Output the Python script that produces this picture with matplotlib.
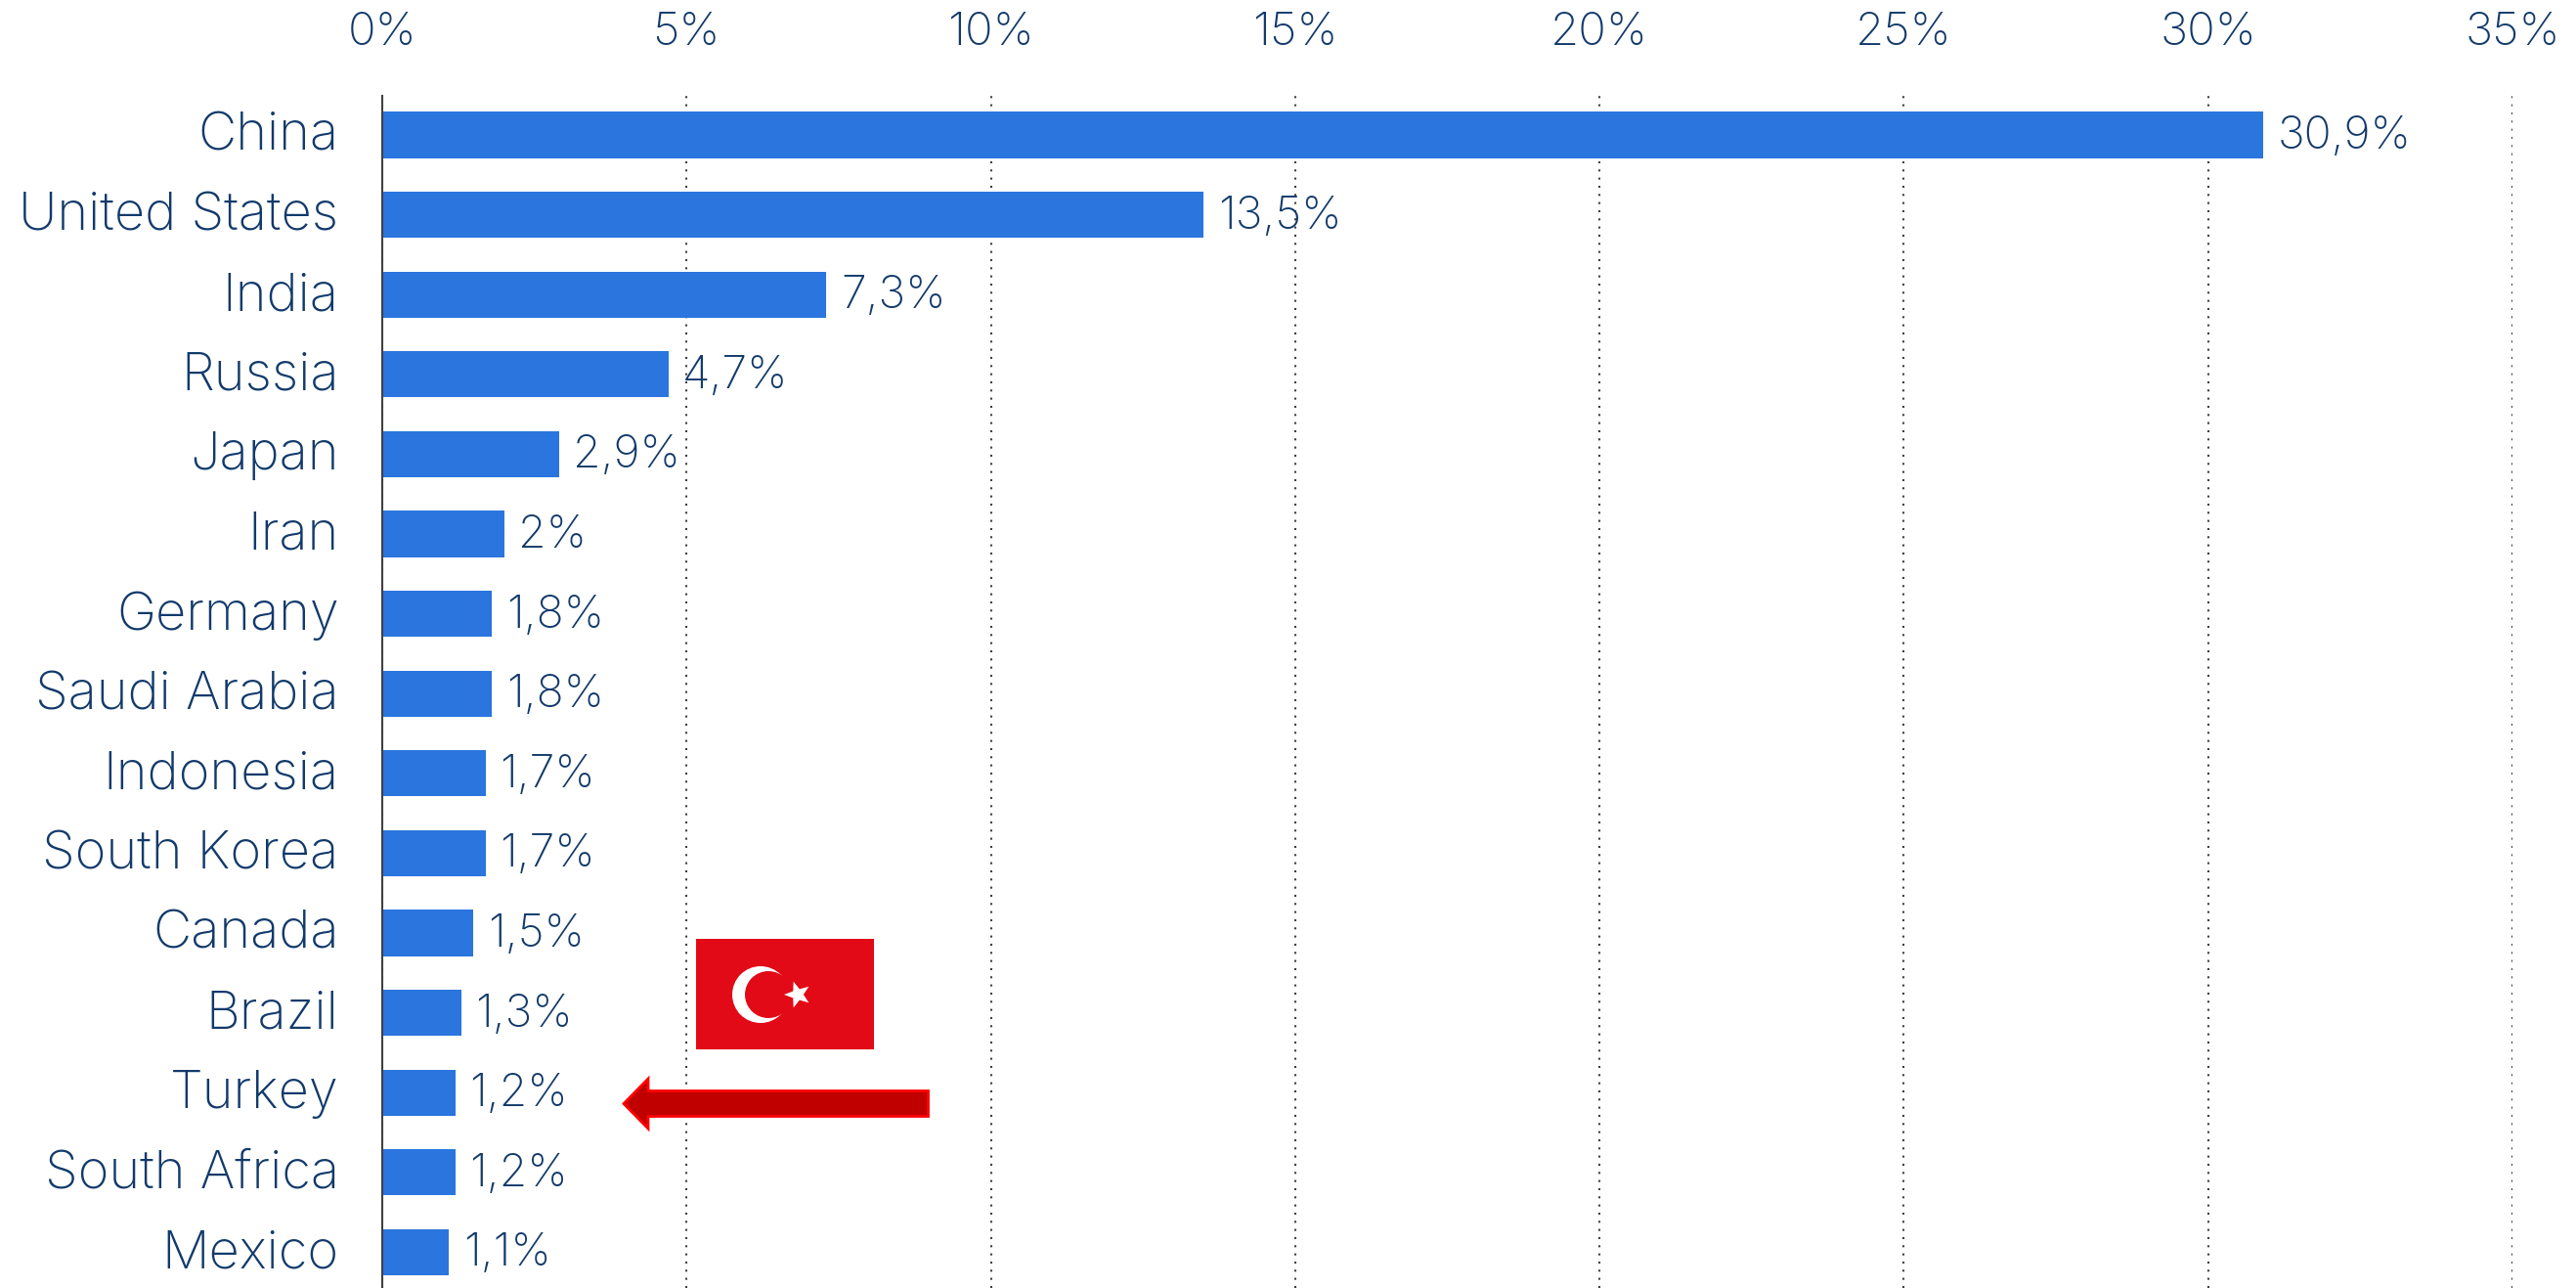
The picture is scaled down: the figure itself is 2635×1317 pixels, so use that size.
import matplotlib
matplotlib.use('Agg')
import matplotlib.pyplot as plt
from matplotlib.patches import Rectangle, Circle, Polygon, PathPatch
from matplotlib.path import Path
from matplotlib.transforms import Affine2D, ScaledTranslation

countries = ['China', 'United States', 'India', 'Russia', 'Japan', 'Iran', 'Germany',
             'Saudi Arabia', 'Indonesia', 'South Korea', 'Canada', 'Brazil', 'Turkey',
             'South Africa', 'Mexico']
shares = [30.9, 13.5, 7.3, 4.7, 2.9, 2, 1.8, 1.8, 1.7, 1.7, 1.5, 1.3, 1.2, 1.2, 1.1]
x_ticks = [0, 5, 10, 15, 20, 25, 30, 35]

W, H = 2635, 1317
text_color = '#123A6B'
bar_color = '#2A75DE'

plt.rcParams['font.family'] = ['Inter', 'DejaVu Sans']
plt.rcParams['font.weight'] = 'light'

fig = plt.figure(figsize=(W / 100, H / 100), dpi=100)
ax = fig.add_axes([391 / W, 0, (2570 - 391) / W, (H - 98) / H])

ypos = list(range(len(countries)))
ax.barh(ypos, shares, height=0.58, color=bar_color, zorder=3)
ax.set_xlim(0, 35)
ax.set_ylim(14.449, -0.49)

ax.xaxis.tick_top()
ax.set_xticks(x_ticks)
ax.set_xticklabels([f'{t}%' for t in x_ticks], fontsize=34, color=text_color)
ax.set_yticks(ypos)
ax.set_yticklabels(countries, fontsize=39, color=text_color)
ax.tick_params(axis='x', length=0, pad=30)
ax.tick_params(axis='y', length=0, pad=32)

# country names sit slightly above the bar centres
lift = ScaledTranslation(0, 3.5 / 100, fig.dpi_scale_trans)
for lab in ax.get_yticklabels():
    lab.set_transform(lab.get_transform() + lift)

ax.grid(axis='x', color='#404040', linewidth=1.5, linestyle=(0, (1, 3)), zorder=1)
ax.set_axisbelow(True)
for side in ['top', 'right', 'bottom']:
    ax.spines[side].set_visible(False)
ax.spines['left'].set_color('#404040')
ax.spines['left'].set_linewidth(1.5)
ax.spines['left'].set_zorder(4)

# value labels, decimal comma
for y, v in zip(ypos, shares):
    label = f'{v:g}'.replace('.', ',') + '%'
    ax.annotate(label, (v, y), xytext=(10.5, -1.5), textcoords='offset points',
                va='center', ha='left', fontsize=33.5, color=text_color, zorder=5)

# overlay in pixel units for the flag and the arrow
over = fig.add_axes([0, 0, 1, 1], facecolor='none')
over.set_xlim(0, W)
over.set_ylim(H, 0)
over.axis('off')

flag_red = '#E30A17'
over.add_patch(Rectangle((712, 960), 182, 113, color=flag_red, lw=0))
over.add_patch(Circle((778, 1017), 29, color='white', lw=0))
over.add_patch(Circle((786, 1017), 24, color=flag_red, lw=0))
star = Path.unit_regular_star(5, 0.42)
star_tf = Affine2D().rotate_deg(90).scale(14).translate(816, 1017)
over.add_patch(PathPatch(star_tf.transform_path(star), color='white', lw=0))

arrow_pts = [(638, 1128.5), (663, 1103), (663, 1115.5), (949.5, 1115.5),
             (949.5, 1141.5), (663, 1141.5), (663, 1154)]
over.add_patch(Polygon(arrow_pts, closed=True, facecolor='#C00000', edgecolor='#FF0000',
                       linewidth=2.0, joinstyle='miter'))

fig.savefig('out.png', dpi=100)
